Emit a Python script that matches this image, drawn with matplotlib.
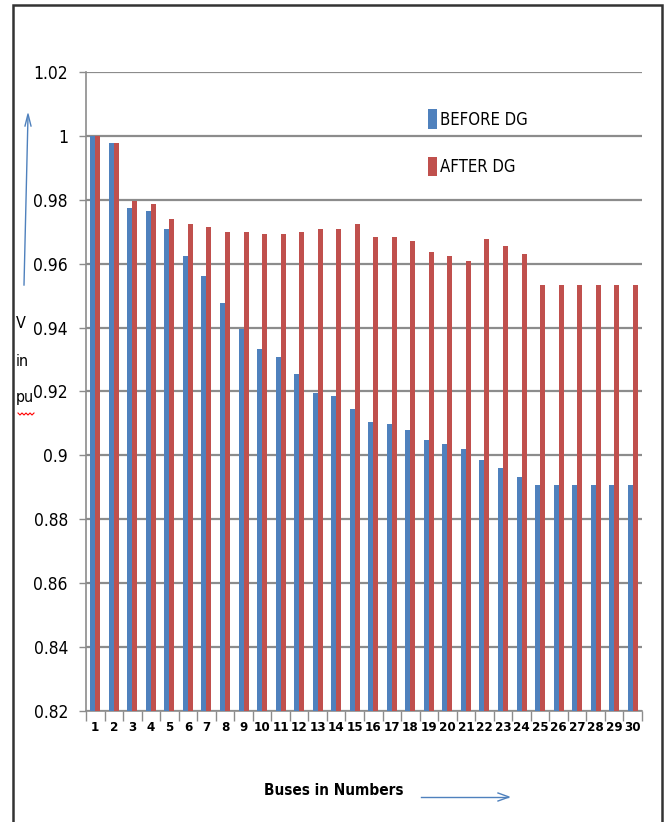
import numpy as np
import matplotlib
matplotlib.use("Agg")
import matplotlib.pyplot as plt
from matplotlib.patches import Rectangle

plt.rcParams['font.family'] = ['DejaVu Sans']
plt.rcParams['font.stretch'] = 'condensed'

# bus voltages (pu) before and after placing DG
buses = list(range(1, 31))
before_dg = [1.0, 0.9977, 0.9773, 0.9765, 0.971, 0.9623, 0.956, 0.9476, 0.9397, 0.9333,
             0.9309, 0.9254, 0.9195, 0.9185, 0.9145, 0.9105, 0.9097, 0.908, 0.9049, 0.9035,
             0.9019, 0.8987, 0.8962, 0.8931, 0.8907, 0.8907, 0.8907, 0.8907, 0.8907, 0.8907]
after_dg = [1.0, 0.9977, 0.9797, 0.9788, 0.974, 0.9725, 0.9716, 0.970, 0.970, 0.9692,
            0.9692, 0.970, 0.9709, 0.9709, 0.9725, 0.9685, 0.9685, 0.967, 0.9638, 0.9623,
            0.9607, 0.9678, 0.9654, 0.963, 0.9532, 0.9532, 0.9532, 0.9532, 0.9532, 0.9532]
y_ticks = [0.82, 0.84, 0.86, 0.88, 0.90, 0.92, 0.94, 0.96, 0.98, 1.0, 1.02]
y_labels = ["0.82", "0.84", "0.86", "0.88", "0.9", "0.92", "0.94", "0.96", "0.98", "1", "1.02"]

blue = "#4F81BD"
red = "#C0504D"
grid_col = "#8C8C8C"

fig = plt.figure(figsize=(6.72, 8.22), dpi=100)
ax = fig.add_axes([86 / 672, 1 - 711 / 822, (642 - 86) / 672, (711 - 72) / 822])

x = np.array(buses)
w = 0.27
b1 = ax.bar(x - w / 2, before_dg, w, color=blue, zorder=3)
b2 = ax.bar(x + w / 2, after_dg, w, color=red, zorder=3)

ax.set_xlim(0.5, 30.5)
ax.set_ylim(0.82, 1.02)
ax.set_yticks(y_ticks)
ax.set_yticklabels(y_labels, fontsize=12.5)
ax.yaxis.grid(True, color=grid_col, lw=1.6, zorder=0)
ax.tick_params(axis='y', length=5, width=1, color=grid_col, pad=8)

ax.set_xticks(x)
ax.set_xticklabels([str(b) for b in buses], fontsize=9.5, fontweight='bold')
ax.set_xticks(np.arange(0.5, 31, 1), minor=True)
ax.tick_params(axis='x', which='major', length=0, pad=7)
ax.tick_params(axis='x', which='minor', length=7, width=1, color=grid_col)

for s in ['top', 'right']:
    ax.spines[s].set_visible(False)
for s in ['left', 'bottom']:
    ax.spines[s].set_color(grid_col)
    ax.spines[s].set_linewidth(1.2)

ax.legend([b1, b2], ["BEFORE DG", "AFTER DG"], loc='upper left',
          bbox_to_anchor=(0.588, 0.965), frameon=False, fontsize=12,
          handlelength=0.55, handleheight=1.4, handletextpad=0.15, labelspacing=1.7)

# axis captions and arrows
fig.text(16 / 672, 1 - 323 / 822, "V", fontsize=11.5, va='center', ha='left')
fig.text(16 / 672, 1 - 361 / 822, "in", fontsize=11.5, va='center', ha='left')
fig.text(16 / 672, 1 - 397 / 822, "pu", fontsize=11.5, va='center', ha='left')
sq_x = np.linspace(18, 34, 9) / 672
sq_y = 1 - (413 + np.array([0, 2, 0, 2, 0, 2, 0, 2, 0])) / 822
fig.add_artist(plt.Line2D(sq_x, sq_y, color='red', lw=0.8))
fig.add_artist(plt.Line2D([24 / 672, 28 / 672], [1 - 285 / 822, 1 - 116 / 822], color=blue, lw=1))
fig.add_artist(plt.Line2D([25 / 672, 28 / 672, 31 / 672], [1 - 126 / 822, 1 - 114 / 822, 1 - 126 / 822],
                          color=blue, lw=1))

fig.text(334 / 672, 1 - 790 / 822, "Buses in Numbers", fontsize=11, fontweight='bold',
         ha='center', va='center')
fig.add_artist(plt.Line2D([421 / 672, 508 / 672], [1 - 797 / 822, 1 - 797 / 822], color=blue, lw=1))
fig.add_artist(plt.Line2D([498 / 672, 509 / 672, 498 / 672], [1 - 793 / 822, 1 - 797 / 822, 1 - 801 / 822],
                          color=blue, lw=1))

# outer frame
fig.add_artist(Rectangle((13 / 672, -0.05), (662 - 13) / 672, 1.05 - 5 / 822,
                         transform=fig.transFigure, fill=False, edgecolor="#333333", lw=1.8))

fig.savefig("out.png", dpi=100)
